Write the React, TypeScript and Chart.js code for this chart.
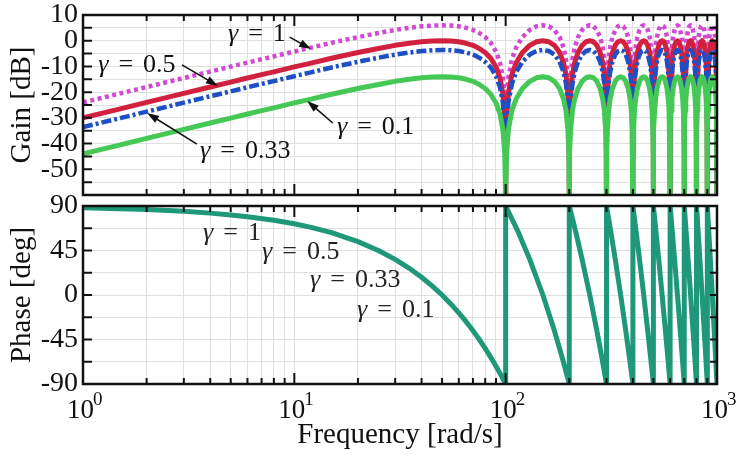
import { useEffect, useRef } from 'react';
import { Chart, registerables } from 'chart.js';

Chart.register(...registerables);

// frequency grid [rad/s]: first lobe up to the notch at 100, then one lobe per notch up to 1000
const freq = [
  1, 1.5, 2, 3, 4, 5, 6, 7, 8, 10, 12, 15, 20, 25, 30, 35, 40, 45, 50, 55, 60, 65, 70, 75, 80, 85, 90, 94, 97, 99, 99.8, 100,
  100.2, 101, 103, 107, 112, 120, 130, 140, 150, 160, 170, 180, 188, 193, 197, 199, 199.8, 200,
  200.2, 201, 203, 207, 212, 220, 230, 240, 250, 260, 270, 280, 288, 293, 297, 299, 299.8, 300,
  300.2, 301, 303, 307, 312, 320, 330, 340, 350, 360, 370, 380, 388, 393, 397, 399, 399.8, 400,
  400.2, 401, 403, 407, 412, 420, 430, 440, 450, 460, 470, 480, 488, 493, 497, 499, 499.8, 500,
  500.2, 501, 503, 507, 512, 520, 530, 540, 550, 560, 570, 580, 588, 593, 597, 599, 599.8, 600,
  600.2, 601, 603, 607, 612, 620, 630, 640, 650, 660, 670, 680, 688, 693, 697, 699, 699.8, 700,
  700.2, 701, 703, 707, 712, 720, 730, 740, 750, 760, 770, 780, 788, 793, 797, 799, 799.8, 800,
  800.2, 801, 803, 807, 812, 820, 830, 840, 850, 860, 870, 880, 888, 893, 897, 899, 899.8, 900,
  900.2, 901, 903, 907, 912, 920, 930, 940, 950, 960, 970, 980, 988, 993, 997, 999, 999.8, 1000,
];

// gain [dB], gamma = 1
const gainG1 = [
  -24.0, -20.5, -18.0, -14.5, -12.0, -10.1, -8.5, -7.2, -6.1, -4.2, -2.7, -0.8, 1.4, 3.0, 4.2, 5.0, 5.6, 5.9, 6.0, 5.9, 5.6, 5.0, 4.2, 3.0, 1.4, -0.8, -4.2, -8.5, -14.5, -24.0, -38.0, -80,
  -38.0, -24.0, -14.5, -7.2, -2.7, 1.4, 4.2, 5.6, 6.0, 5.6, 4.2, 1.4, -2.7, -7.2, -14.5, -24.0, -38.0, -80,
  -38.0, -24.0, -14.5, -7.2, -2.7, 1.4, 4.2, 5.6, 6.0, 5.6, 4.2, 1.4, -2.7, -7.2, -14.5, -24.0, -38.0, -80,
  -38.0, -24.0, -14.5, -7.2, -2.7, 1.4, 4.2, 5.6, 6.0, 5.6, 4.2, 1.4, -2.7, -7.2, -14.5, -24.0, -38.0, -80,
  -38.0, -24.0, -14.5, -7.2, -2.7, 1.4, 4.2, 5.6, 6.0, 5.6, 4.2, 1.4, -2.7, -7.2, -14.5, -24.0, -38.0, -80,
  -38.0, -24.0, -14.5, -7.2, -2.7, 1.4, 4.2, 5.6, 6.0, 5.6, 4.2, 1.4, -2.7, -7.2, -14.5, -24.0, -38.0, -80,
  -38.0, -24.0, -14.5, -7.2, -2.7, 1.4, 4.2, 5.6, 6.0, 5.6, 4.2, 1.4, -2.7, -7.2, -14.5, -24.0, -38.0, -80,
  -38.0, -24.0, -14.5, -7.2, -2.7, 1.4, 4.2, 5.6, 6.0, 5.6, 4.2, 1.4, -2.7, -7.2, -14.5, -24.0, -38.0, -80,
  -38.0, -24.0, -14.5, -7.2, -2.7, 1.4, 4.2, 5.6, 6.0, 5.6, 4.2, 1.4, -2.7, -7.2, -14.5, -24.0, -38.0, -80,
  -38.0, -24.0, -14.5, -7.2, -2.7, 1.4, 4.2, 5.6, 6.0, 5.6, 4.2, 1.4, -2.7, -7.2, -14.5, -24.0, -38.0, -80,
];

// gamma = 0.5
const gainG05 = [
  -30.0, -26.5, -24.0, -20.5, -18.0, -16.1, -14.5, -13.2, -12.1, -10.2, -8.7, -6.8, -4.6, -3.0, -1.8, -1.0, -0.4, -0.1, 0.0, -0.1, -0.4, -1.0, -1.8, -3.0, -4.6, -6.8, -10.2, -14.5, -20.5, -30.0, -44.0, -80,
  -44.0, -30.0, -20.5, -13.2, -8.7, -4.6, -1.8, -0.4, 0.0, -0.4, -1.8, -4.6, -8.7, -13.2, -20.5, -30.0, -44.0, -80,
  -44.0, -30.0, -20.5, -13.2, -8.7, -4.6, -1.8, -0.4, 0.0, -0.4, -1.8, -4.6, -8.7, -13.2, -20.5, -30.0, -44.0, -80,
  -44.0, -30.0, -20.5, -13.2, -8.7, -4.6, -1.8, -0.4, 0.0, -0.4, -1.8, -4.6, -8.7, -13.2, -20.5, -30.0, -44.0, -80,
  -44.0, -30.0, -20.5, -13.2, -8.7, -4.6, -1.8, -0.4, 0.0, -0.4, -1.8, -4.6, -8.7, -13.2, -20.5, -30.0, -44.0, -80,
  -44.0, -30.0, -20.5, -13.2, -8.7, -4.6, -1.8, -0.4, 0.0, -0.4, -1.8, -4.6, -8.7, -13.2, -20.5, -30.0, -44.0, -80,
  -44.0, -30.0, -20.5, -13.2, -8.7, -4.6, -1.8, -0.4, 0.0, -0.4, -1.8, -4.6, -8.7, -13.2, -20.5, -30.0, -44.0, -80,
  -44.0, -30.0, -20.5, -13.2, -8.7, -4.6, -1.8, -0.4, 0.0, -0.4, -1.8, -4.6, -8.7, -13.2, -20.5, -30.0, -44.0, -80,
  -44.0, -30.0, -20.5, -13.2, -8.7, -4.6, -1.8, -0.4, 0.0, -0.4, -1.8, -4.6, -8.7, -13.2, -20.5, -30.0, -44.0, -80,
  -44.0, -30.0, -20.5, -13.2, -8.7, -4.6, -1.8, -0.4, 0.0, -0.4, -1.8, -4.6, -8.7, -13.2, -20.5, -30.0, -44.0, -80,
];

// gamma = 0.33
const gainG033 = [
  -33.6, -30.1, -27.6, -24.1, -21.6, -19.7, -18.1, -16.8, -15.7, -13.8, -12.3, -10.4, -8.2, -6.6, -5.4, -4.6, -4.0, -3.7, -3.6, -3.7, -4.0, -4.6, -5.4, -6.6, -8.2, -10.4, -13.8, -18.1, -24.1, -33.6, -47.6, -80,
  -47.6, -33.6, -24.1, -16.8, -12.3, -8.2, -5.4, -4.0, -3.6, -4.0, -5.4, -8.2, -12.3, -16.8, -24.1, -33.6, -47.6, -80,
  -47.6, -33.6, -24.1, -16.8, -12.3, -8.2, -5.4, -4.0, -3.6, -4.0, -5.4, -8.2, -12.3, -16.8, -24.1, -33.6, -47.6, -80,
  -47.6, -33.6, -24.1, -16.8, -12.3, -8.2, -5.4, -4.0, -3.6, -4.0, -5.4, -8.2, -12.3, -16.8, -24.1, -33.6, -47.6, -80,
  -47.6, -33.6, -24.1, -16.8, -12.3, -8.2, -5.4, -4.0, -3.6, -4.0, -5.4, -8.2, -12.3, -16.8, -24.1, -33.6, -47.6, -80,
  -47.6, -33.6, -24.1, -16.8, -12.3, -8.2, -5.4, -4.0, -3.6, -4.0, -5.4, -8.2, -12.3, -16.8, -24.1, -33.6, -47.6, -80,
  -47.6, -33.6, -24.1, -16.8, -12.3, -8.2, -5.4, -4.0, -3.6, -4.0, -5.4, -8.2, -12.3, -16.8, -24.1, -33.6, -47.6, -80,
  -47.6, -33.6, -24.1, -16.8, -12.3, -8.2, -5.4, -4.0, -3.6, -4.0, -5.4, -8.2, -12.3, -16.8, -24.1, -33.6, -47.6, -80,
  -47.6, -33.6, -24.1, -16.8, -12.3, -8.2, -5.4, -4.0, -3.6, -4.0, -5.4, -8.2, -12.3, -16.8, -24.1, -33.6, -47.6, -80,
  -47.6, -33.6, -24.1, -16.8, -12.3, -8.2, -5.4, -4.0, -3.6, -4.0, -5.4, -8.2, -12.3, -16.8, -24.1, -33.6, -47.6, -80,
];

// gamma = 0.1
const gainG01 = [
  -44.0, -40.5, -38.0, -34.5, -32.0, -30.1, -28.5, -27.2, -26.1, -24.2, -22.7, -20.8, -18.6, -17.0, -15.8, -15.0, -14.4, -14.1, -14.0, -14.1, -14.4, -15.0, -15.8, -17.0, -18.6, -20.8, -24.2, -28.5, -34.5, -44.0, -58.0, -80,
  -58.0, -44.0, -34.5, -27.2, -22.7, -18.6, -15.8, -14.4, -14.0, -14.4, -15.8, -18.6, -22.7, -27.2, -34.5, -44.0, -58.0, -80,
  -58.0, -44.0, -34.5, -27.2, -22.7, -18.6, -15.8, -14.4, -14.0, -14.4, -15.8, -18.6, -22.7, -27.2, -34.5, -44.0, -58.0, -80,
  -58.0, -44.0, -34.5, -27.2, -22.7, -18.6, -15.8, -14.4, -14.0, -14.4, -15.8, -18.6, -22.7, -27.2, -34.5, -44.0, -58.0, -80,
  -58.0, -44.0, -34.5, -27.2, -22.7, -18.6, -15.8, -14.4, -14.0, -14.4, -15.8, -18.6, -22.7, -27.2, -34.5, -44.0, -58.0, -80,
  -58.0, -44.0, -34.5, -27.2, -22.7, -18.6, -15.8, -14.4, -14.0, -14.4, -15.8, -18.6, -22.7, -27.2, -34.5, -44.0, -58.0, -80,
  -58.0, -44.0, -34.5, -27.2, -22.7, -18.6, -15.8, -14.4, -14.0, -14.4, -15.8, -18.6, -22.7, -27.2, -34.5, -44.0, -58.0, -80,
  -58.0, -44.0, -34.5, -27.2, -22.7, -18.6, -15.8, -14.4, -14.0, -14.4, -15.8, -18.6, -22.7, -27.2, -34.5, -44.0, -58.0, -80,
  -58.0, -44.0, -34.5, -27.2, -22.7, -18.6, -15.8, -14.4, -14.0, -14.4, -15.8, -18.6, -22.7, -27.2, -34.5, -44.0, -58.0, -80,
  -58.0, -44.0, -34.5, -27.2, -22.7, -18.6, -15.8, -14.4, -14.0, -14.4, -15.8, -18.6, -22.7, -27.2, -34.5, -44.0, -58.0, -80,
];

// phase (same for every gamma), wraps from -90 back to 90 at each notch
const phaseFreq = [
  1, 1.5, 2, 3, 4, 5, 6, 8, 10, 12, 15, 20, 25, 30, 35, 40, 45, 50, 55, 60, 65, 70, 75, 80, 85, 90, 95, 100,
  100, 115, 130, 150, 170, 185, 200,
  200, 215, 230, 250, 270, 285, 300,
  300, 315, 330, 350, 370, 385, 400,
  400, 415, 430, 450, 470, 485, 500,
  500, 515, 530, 550, 570, 585, 600,
  600, 615, 630, 650, 670, 685, 700,
  700, 715, 730, 750, 770, 785, 800,
  800, 815, 830, 850, 870, 885, 900,
  900, 915, 930, 950, 970, 985, 1000,
];
const phaseDeg = [
  88.2, 87.3, 86.4, 84.6, 82.8, 81.0, 79.2, 75.6, 72.0, 68.4, 63.0, 54.0, 45.0, 36.0, 27.0, 18.0, 9.0, 0.0, -9.0, -18.0, -27.0, -36.0, -45.0, -54.0, -63.0, -72.0, -81.0, -90.0,
  90, 63, 36, 0, -36, -63, -90,
  90, 63, 36, 0, -36, -63, -90,
  90, 63, 36, 0, -36, -63, -90,
  90, 63, 36, 0, -36, -63, -90,
  90, 63, 36, 0, -36, -63, -90,
  90, 63, 36, 0, -36, -63, -90,
  90, 63, 36, 0, -36, -63, -90,
  90, 63, 36, 0, -36, -63, -90,
  90, 63, 36, 0, -36, -63, -90,
];

const xTicks = [1, 2, 3, 4, 5, 6, 7, 8, 9, 10, 20, 30, 40, 50, 60, 70, 80, 90, 100, 200, 300, 400, 500, 600, 700, 800, 900, 1000];
const decades = [1, 10, 100, 1000];
const decadeExp = ['0', '1', '2', '3'];

// labels: gamma value, text anchor (freq, value), arrow from -> to
const gainNotes = [
  { value: '1', x: 4.85, y: -0.3, from: [9.5, 1.4], to: [12.0, -3.2] },
  { value: '0.5', x: 1.18, y: -12.0, from: [2.94, -9.4], to: [4.35, -17.6] },
  { value: '0.33', x: 3.58, y: -45.8, from: [3.46, -40.2], to: [2.01, -28.1] },
  { value: '0.1', x: 15.9, y: -36.1, from: [15.2, -32.0], to: [11.5, -23.4] },
];
const phaseNotes = [
  { value: '1', x: 3.7, y: 55.6 },
  { value: '0.5', x: 7.03, y: 36.9 },
  { value: '0.33', x: 11.86, y: 8.1 },
  { value: '0.1', x: 19.8, y: -22.2 },
];

const FONT = '"Liberation Serif", "Times New Roman", "DejaVu Serif", serif';
const GRID = '#e0e0e0';
const INK = '#111';

const pts = (xs: number[], ys: number[]) => xs.map((x, i) => ({ x, y: ys[i] }));

function drawGamma(ctx: CanvasRenderingContext2D, x: number, y: number, value: string) {
  ctx.textAlign = 'left';
  ctx.textBaseline = 'alphabetic';
  ctx.font = `italic 26px ${FONT}`;
  ctx.fillText('γ', x, y);
  let w = ctx.measureText('γ').width + 10;
  ctx.font = `26px ${FONT}`;
  ctx.fillText('=', x + w, y);
  w += ctx.measureText('=').width + 10;
  ctx.fillText(value, x + w, y);
}

function drawArrow(ctx: CanvasRenderingContext2D, x0: number, y0: number, x1: number, y1: number) {
  const a = Math.atan2(y1 - y0, x1 - x0);
  const c = Math.cos(a), s = Math.sin(a);
  ctx.beginPath();
  ctx.moveTo(x0, y0);
  ctx.lineTo(x1 - 8 * c, y1 - 8 * s);
  ctx.stroke();
  ctx.beginPath();
  ctx.moveTo(x1, y1);
  ctx.lineTo(x1 - 12 * c + 4 * s, y1 - 12 * s - 4 * c);
  ctx.lineTo(x1 - 12 * c - 4 * s, y1 - 12 * s + 4 * c);
  ctx.closePath();
  ctx.fill();
}

// inward ticks on all four sides plus the black frame
const framePlugin = {
  id: 'frame',
  afterDraw(chart: any) {
    const { ctx, chartArea: a } = chart;
    const xs = chart.scales.x, ys = chart.scales.y;
    ctx.save();
    ctx.strokeStyle = INK;
    ctx.lineWidth = 2;
    ctx.beginPath();
    xTicks.forEach((v) => {
      if (v === 1 || v === 1000) return;
      const px = xs.getPixelForValue(v);
      const len = decades.includes(v) ? 11 : 6;
      ctx.moveTo(px, a.bottom);
      ctx.lineTo(px, a.bottom - len);
      ctx.moveTo(px, a.top);
      ctx.lineTo(px, a.top + len);
    });
    ys.ticks.forEach((t: any) => {
      const py = ys.getPixelForValue(t.value);
      if (Math.abs(py - a.top) < 1 || Math.abs(py - a.bottom) < 1) return;
      ctx.moveTo(a.left, py);
      ctx.lineTo(a.left + 9, py);
      ctx.moveTo(a.right, py);
      ctx.lineTo(a.right - 7, py);
    });
    ctx.stroke();
    ctx.lineWidth = 2.5;
    ctx.strokeRect(a.left, a.top, a.right - a.left, a.bottom - a.top);
    ctx.restore();
  },
};

const gainTextPlugin = {
  id: 'gainText',
  afterDraw(chart: any) {
    const { ctx, chartArea: a } = chart;
    const xs = chart.scales.x, ys = chart.scales.y;
    ctx.save();
    ctx.fillStyle = INK;
    ctx.strokeStyle = INK;
    ctx.lineWidth = 1.6;
    gainNotes.forEach((n) => {
      drawGamma(ctx, xs.getPixelForValue(n.x), ys.getPixelForValue(n.y), n.value);
      drawArrow(ctx, xs.getPixelForValue(n.from[0]), ys.getPixelForValue(n.from[1]),
        xs.getPixelForValue(n.to[0]), ys.getPixelForValue(n.to[1]));
    });
    ctx.translate(30, (a.top + a.bottom) / 2);
    ctx.rotate(-Math.PI / 2);
    ctx.font = `29px ${FONT}`;
    ctx.textAlign = 'center';
    ctx.textBaseline = 'alphabetic';
    ctx.fillText('Gain [dB]', 0, 0);
    ctx.restore();
  },
};

const phaseTextPlugin = {
  id: 'phaseText',
  afterDraw(chart: any) {
    const { ctx, chartArea: a } = chart;
    const xs = chart.scales.x, ys = chart.scales.y;
    ctx.save();
    ctx.fillStyle = '#222';
    phaseNotes.forEach((n) => drawGamma(ctx, xs.getPixelForValue(n.x), ys.getPixelForValue(n.y), n.value));
    ctx.fillStyle = INK;
    decades.forEach((v, i) => {
      const px = xs.getPixelForValue(v);
      ctx.textAlign = 'left';
      ctx.textBaseline = 'alphabetic';
      ctx.font = `27px ${FONT}`;
      ctx.fillText('10', px - 16, a.bottom + 34);
      ctx.font = `19px ${FONT}`;
      ctx.fillText(decadeExp[i], px + 10, a.bottom + 21);
    });
    ctx.font = `29px ${FONT}`;
    ctx.textAlign = 'center';
    ctx.fillText('Frequency [rad/s]', (a.left + a.right) / 2, a.bottom + 59);
    ctx.translate(30, (a.top + a.bottom) / 2);
    ctx.rotate(-Math.PI / 2);
    ctx.fillText('Phase [deg]', 0, 0);
    ctx.restore();
  },
};

const xAxis = (height: number) => ({
  type: 'logarithmic' as const,
  min: 1,
  max: 1000,
  afterBuildTicks: (s: any) => { s.ticks = xTicks.map((v) => ({ value: v })); },
  afterFit: (s: any) => { s.height = height; s.paddingLeft = 0; s.paddingRight = 0; },
  ticks: { display: false },
  grid: { color: GRID, lineWidth: 1, drawTicks: false },
  border: { display: false },
});

const yAxis = (min: number, max: number, step: number, every: number, skip: number) => ({
  min,
  max,
  afterFit: (s: any) => { s.width = 83; s.paddingTop = 0; s.paddingBottom = 0; },
  ticks: {
    stepSize: step,
    autoSkip: false,
    padding: 5,
    color: INK,
    font: { family: FONT, size: 28 },
    callback: (v: any) => (Math.abs(v % every) < 1e-6 && v !== skip ? String(v) : ''),
  },
  grid: { color: GRID, lineWidth: 1, drawTicks: false },
  border: { display: false },
});

const common = {
  responsive: false,
  animation: false as const,
  events: [],
  plugins: { legend: { display: false }, tooltip: { enabled: false } },
  elements: {
    point: { radius: 0 },
    line: { tension: 0, borderCapStyle: 'butt' as const, borderJoinStyle: 'round' as const },
  },
};

export default function App() {
  const gainRef = useRef<HTMLCanvasElement>(null);
  const phaseRef = useRef<HTMLCanvasElement>(null);

  useEffect(() => {
    const gain = new Chart(gainRef.current!, {
      type: 'line',
      data: {
        datasets: [
          { label: 'γ = 1', data: pts(freq, gainG1), borderColor: '#d24ad2', borderWidth: 4.5, borderDash: [4, 3.5], order: 3 },
          { label: 'γ = 0.5', data: pts(freq, gainG05), borderColor: '#d2213f', borderWidth: 5, order: 2 },
          { label: 'γ = 0.33', data: pts(freq, gainG033), borderColor: '#1f4fc4', borderWidth: 4.5, borderDash: [10, 3, 3, 3], order: 1 },
          { label: 'γ = 0.1', data: pts(freq, gainG01), borderColor: '#45c856', borderWidth: 5, order: 0 },
        ],
      },
      options: {
        ...common,
        layout: { padding: { left: 0, right: 30, top: 15, bottom: 5 } },
        scales: { x: xAxis(0), y: yAxis(-60, 10, 5, 10, -60) },
      } as any,
      plugins: [framePlugin, gainTextPlugin],
    });

    const phase = new Chart(phaseRef.current!, {
      type: 'line',
      data: {
        datasets: [
          { label: 'phase', data: pts(phaseFreq, phaseDeg), borderColor: '#1f987a', borderWidth: 5 },
        ],
      },
      options: {
        ...common,
        layout: { padding: { left: 0, right: 30, top: 16, bottom: 0 } },
        scales: { x: xAxis(71), y: yAxis(-90, 90, 22.5, 45, 999) },
      } as any,
      plugins: [framePlugin, phaseTextPlugin],
    });

    return () => {
      gain.destroy();
      phase.destroy();
    };
  }, []);

  return (
    <div style={{ position: 'fixed', left: 0, top: 0, width: 747, height: 455, background: '#fff' }}>
      <canvas ref={gainRef} width={747} height={200} style={{ position: 'absolute', left: 0, top: 0 }} />
      <canvas ref={phaseRef} width={747} height={265} style={{ position: 'absolute', left: 0, top: 190 }} />
    </div>
  );
}
